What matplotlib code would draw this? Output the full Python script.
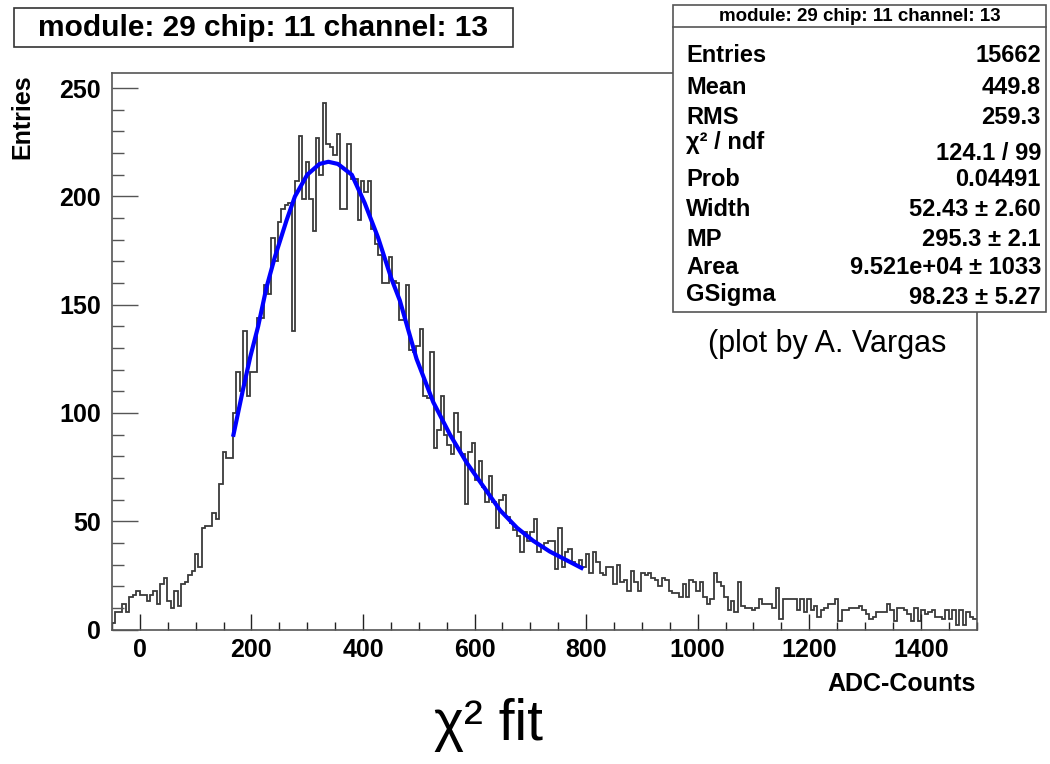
import numpy as np
import matplotlib
matplotlib.use("Agg")
import matplotlib.pyplot as plt
from matplotlib.patches import Rectangle
from matplotlib.lines import Line2D
from matplotlib.ticker import MultipleLocator

plt.rcParams['font.family'] = ['Liberation Sans', 'DejaVu Sans']

# ---------------- data ----------------
x_min, x_max, n_bins = -50.0, 1500.0, 250

counts = [
    3, 8, 8, 12, 8, 15, 16, 18, 16, 16,
    13, 16, 18, 12, 21, 24, 13, 10, 18, 11,
    21, 22, 25, 27, 35, 29, 47, 48, 48, 54,
    51, 67, 82, 79, 79, 100, 119, 110, 138, 108,
    119, 119, 144, 144, 159, 155, 181, 170, 188, 194,
    196, 197, 138, 207, 228, 199, 216, 199, 184, 227,
    210, 243, 224, 223, 219, 229, 194, 194, 224, 208,
    208, 189, 207, 202, 207, 185, 178, 173, 160, 160,
    172, 161, 160, 143, 143, 159, 129, 128, 131, 139,
    108, 107, 128, 84, 92, 108, 90, 85, 81, 100,
    91, 81, 58, 82, 86, 69, 78, 66, 59, 71,
    59, 47, 60, 62, 52, 49, 46, 43, 36, 45,
    41, 45, 51, 36, 38, 40, 41, 41, 28, 47,
    29, 36, 37, 31, 30, 32, 29, 35, 26, 36,
    31, 26, 25, 29, 29, 21, 30, 22, 23, 18,
    27, 22, 18, 26, 25, 26, 24, 23, 20, 24,
    23, 18, 17, 17, 15, 21, 15, 23, 22, 18,
    22, 15, 12, 14, 26, 22, 20, 15, 9, 13,
    8, 22, 11, 10, 10, 9, 10, 14, 12, 12,
    12, 10, 19, 5, 14, 14, 14, 14, 9, 14,
    8, 14, 9, 11, 6, 9, 10, 12, 12, 14,
    4, 9, 9, 10, 10, 10, 11, 9, 7, 5,
    6, 8, 8, 8, 12, 9, 4, 10, 10, 9,
    7, 4, 10, 4, 9, 7, 8, 9, 6, 6,
    5, 9, 5, 9, 2, 9, 2, 8, 6, 5,
]

# fit curve
fit_x = [167, 176, 185, 198, 212, 227, 242, 263, 278, 300, 322, 338, 355, 380, 403,
         427, 451, 466, 496, 526, 556, 586, 616, 646, 676, 705, 735, 765, 795]
fit_y = [89, 100, 111, 126, 140, 158, 172, 189, 200, 210, 215, 216, 215, 210, 197,
         181, 162, 152, 125, 105, 90, 77, 66, 55, 47, 41, 36, 32, 28]

title = "module: 29 chip: 11 channel: 13"
stat_labels = ["Entries", "Mean", "RMS", "\u03c7\u00b2 / ndf", "Prob",
               "Width", "MP", "Area", "GSigma"]
stat_values = ["15662", "449.8", "259.3", "124.1 / 99", "0.04491",
               "52.43 \u00b1 2.60", "295.3 \u00b1 2.1",
               "9.521e+04 \u00b1 1033", "98.23 \u00b1 5.27"]
x_label = "ADC-Counts"
y_label = "Entries"
credit = "(plot by A. Vargas"
caption = "\u03c7\u00b2 fit"

# ---------------- figure ----------------
W, H = 1050, 764
fig = plt.figure(figsize=(W / 100, H / 100), dpi=100)
fig.patch.set_facecolor('white')

def fx(px):
    return px / W

def fy(py):
    return 1 - py / H

ax_l, ax_r, ax_t, ax_b = 112, 976.5, 73, 629.5
ax = fig.add_axes([fx(ax_l), fy(ax_b), fx(ax_r - ax_l), (ax_b - ax_t) / H])

edges = np.linspace(x_min, x_max, n_bins + 1)
ax.stairs(counts, edges, color='#3a3a3a', lw=1.3, baseline=None)
ax.plot(fit_x, fit_y, color='#0000ff', lw=3.0, solid_capstyle='butt')

ax.set_xlim(x_min, x_max)
ax.set_ylim(0, 257)

ax.xaxis.set_major_locator(MultipleLocator(200))
ax.xaxis.set_minor_locator(MultipleLocator(50))
ax.yaxis.set_major_locator(MultipleLocator(50))
ax.yaxis.set_minor_locator(MultipleLocator(10))
ax.tick_params(axis='x', which='major', direction='in', length=11.5, width=1,
               pad=6, labelsize=18, color='#222222')
ax.tick_params(axis='x', which='minor', direction='in', length=5.8, width=1,
               color='#222222')
ax.tick_params(axis='y', which='major', direction='in', length=18.7, width=1,
               pad=8, labelsize=18, color='#555555')
ax.tick_params(axis='y', which='minor', direction='in', length=8.6, width=1,
               color='#555555')
for lab in ax.get_xticklabels() + ax.get_yticklabels():
    lab.set_fontweight('bold')
for sp in ax.spines.values():
    sp.set_color('#555555')
    sp.set_linewidth(1.2)

# axis titles
fig.text(fx(976), fy(684), x_label, ha='right', va='center', fontsize=18,
         fontweight='bold')
fig.text(fx(22), fy(74), y_label, ha='center', va='top', rotation=90,
         fontsize=18, fontweight='bold')

# title box
fig.add_artist(Rectangle((fx(14), fy(47)), fx(513 - 14), (47 - 8) / H,
                         transform=fig.transFigure, fc='white', ec='#333333',
                         lw=1.2, zorder=5))
fig.text(fx(263), fy(28), title, ha='center', va='center', fontsize=21.5,
         fontweight='bold', zorder=6)

# stats box
bx0, bx1, by0, by1 = 673, 1046, 5, 312
fig.add_artist(Rectangle((fx(bx0), fy(by1)), fx(bx1 - bx0), (by1 - by0) / H,
                         transform=fig.transFigure, fc='white', ec='#555555',
                         lw=1.2, zorder=5))
fig.add_artist(Line2D([fx(bx0), fx(bx1)], [fy(27), fy(27)],
                      transform=fig.transFigure, color='#555555', lw=1.2,
                      zorder=6))
fig.text(fx((bx0 + bx1) / 2), fy(16.5), title, ha='center', va='center',
         fontsize=13.5, fontweight='bold', zorder=7)
label_y = [56, 88, 117, 143, 180, 209, 239, 268, 294]
value_y = [56, 88, 117, 153, 180, 209, 239, 268, 297]
for lab, ly in zip(stat_labels, label_y):
    fig.text(fx(686), fy(ly), lab, ha='left', va='center', fontsize=17,
             fontweight='bold', zorder=7)
for val, vy in zip(stat_values, value_y):
    fig.text(fx(1041), fy(vy), val, ha='right', va='center', fontsize=17,
             fontweight='bold', zorder=7)

fig.text(fx(708), fy(344), credit, ha='left', va='center', fontsize=22)
fig.text(fx(489), fy(725), caption, ha='center', va='center', fontsize=41,
         family=['Liberation Sans Narrow', 'Liberation Sans', 'DejaVu Sans'])

fig.savefig("out.png", dpi=100)
